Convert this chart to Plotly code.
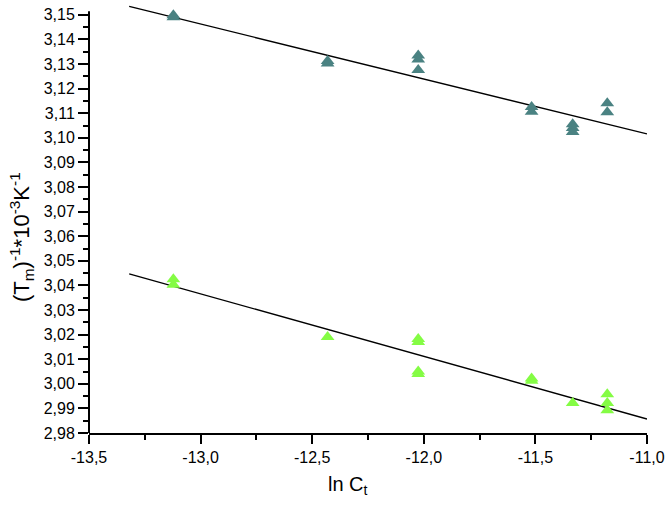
import plotly.graph_objects as go

# ---- data ----
top_x = [-13.122, -13.122, -12.431, -12.431, -12.025, -12.025, -12.025,
         -11.517, -11.517, -11.333, -11.333, -11.333, -11.178, -11.178]
top_y = [3.1498, 3.149, 3.1312, 3.1302, 3.1335, 3.1318, 3.1276,
         3.1125, 3.1106, 3.1055, 3.1040, 3.1024, 3.1140, 3.1104]

bot_x = [-13.122, -13.122, -12.431, -12.025, -12.025, -12.025, -12.025,
         -11.517, -11.517, -11.333, -11.178, -11.178, -11.178]
bot_y = [3.0425, 3.0403, 3.0190, 3.0182, 3.0170, 3.0050, 3.0040,
         3.0022, 3.0012, 2.9922, 2.9958, 2.9922, 2.9892]

fit_x = [-13.32, -11.0]
fit_top = [3.1534, 3.1016]
fit_bot = [3.0447, 2.9857]

x_ticks = [-13.5, -13.0, -12.5, -12.0, -11.5, -11.0]
x_tick_labels = ["-13,5", "-13,0", "-12,5", "-12,0", "-11,5", "-11,0"]
y_ticks = [2.98, 2.99, 3.00, 3.01, 3.02, 3.03, 3.04, 3.05, 3.06, 3.07, 3.08,
           3.09, 3.10, 3.11, 3.12, 3.13, 3.14, 3.15]
y_tick_labels = ["2,98", "2,99", "3,00", "3,01", "3,02", "3,03", "3,04", "3,05",
                 "3,06", "3,07", "3,08", "3,09", "3,10", "3,11", "3,12", "3,13",
                 "3,14", "3,15"]

Y_MIN, Y_AXIS_TOP, Y_MAX = 2.98, 3.1514, 3.1548
X_MIN, X_MAX = -13.5, -11.0

TOP_COLOR = "#4a8282"
BOT_COLOR = "#84fc44"
FONT = "Liberation Sans, Arial, sans-serif"

W, H = 667, 512
# plot-area pixel geometry
L, R, B, AXIS_TOP_PX = 89, 647, 433, 11.7
T = round(B - (B - AXIS_TOP_PX) * (Y_MAX - Y_MIN) / (Y_AXIS_TOP - Y_MIN))

fig = go.Figure()
fig.add_trace(go.Scatter(x=fit_x, y=fit_top, mode="lines",
                         line=dict(color="black", width=1.4), showlegend=False))
fig.add_trace(go.Scatter(x=fit_x, y=fit_bot, mode="lines",
                         line=dict(color="black", width=1.4), showlegend=False))
fig.add_trace(go.Scatter(x=top_x, y=top_y, mode="markers",
                         marker=dict(symbol="triangle-up", size=12, color=TOP_COLOR),
                         showlegend=False))
fig.add_trace(go.Scatter(x=bot_x, y=bot_y, mode="markers",
                         marker=dict(symbol="triangle-up", size=12, color=BOT_COLOR),
                         showlegend=False))

# left axis line only up to the axis top (plot area extends a bit above)
fig.add_shape(type="line", xref="paper", yref="y", x0=0, x1=0,
              y0=Y_MIN, y1=Y_AXIS_TOP, line=dict(color="black", width=2))

fig.update_layout(
    width=W, height=H,
    margin=dict(l=L, r=W - R, t=T, b=H - B, autoexpand=False),
    paper_bgcolor="white", plot_bgcolor="white",
    font=dict(family=FONT, size=16, color="black"),
    xaxis=dict(range=[X_MIN, X_MAX], showgrid=False, zeroline=False,
               automargin=False, ticklabeloverflow="allow",
               showline=True, linecolor="black", linewidth=2,
               ticks="outside", ticklen=9, tickwidth=1.5, tickcolor="black",
               tickvals=x_ticks, ticktext=x_tick_labels,
               tickfont=dict(size=16),
               minor=dict(ticks="outside", ticklen=5, tickwidth=1.5,
                          tickcolor="black", dtick=0.25, tick0=-13.5)),
    yaxis=dict(range=[Y_MIN, Y_MAX], showgrid=False, zeroline=False,
               automargin=False, showline=False, ticklabeloverflow="allow",
               ticks="outside", ticklen=10, tickwidth=1.5, tickcolor="black",
               tickvals=y_ticks, ticktext=y_tick_labels,
               tickfont=dict(size=16),
               minor=dict(ticks="outside", ticklen=5, tickwidth=1.5,
                          tickcolor="black", dtick=0.005, tick0=2.98)),
    annotations=[
        dict(text="ln C<sub>t</sub>", xref="paper", yref="paper",
             x=(348 - L) / (R - L), y=-(486 - B) / (B - T),
             xanchor="center", yanchor="middle", showarrow=False,
             font=dict(size=20, family=FONT)),
        dict(text="(T<sub>m</sub>)<sup>-1</sup>*10<sup>-3</sup>K<sup>-1</sup>",
             xref="paper", yref="paper",
             x=-(L - 21) / (R - L), y=(B - 237) / (B - T),
             xanchor="center", yanchor="middle", showarrow=False, textangle=-90,
             font=dict(size=22, family=FONT)),
    ],
)

fig.write_html("out.html",
               config={"displayModeBar": False},
               post_script="document.body.style.margin='0';"
                           "document.body.style.overflow='hidden';")
